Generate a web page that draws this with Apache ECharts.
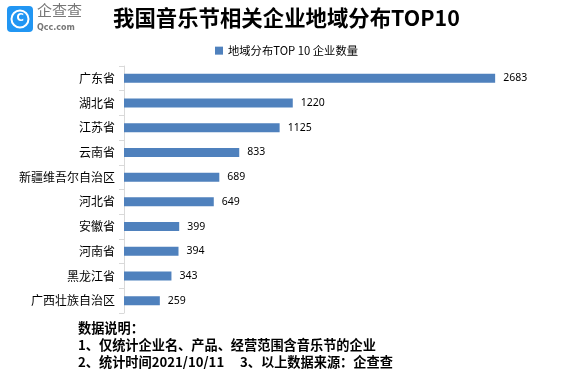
<!DOCTYPE html>
<html><head><meta charset="utf-8">
<style>html,body{margin:0;padding:0;background:#fff}#c{width:572px;height:381px}</style>
<script src="https://cdn.jsdelivr.net/npm/echarts@6/dist/echarts.min.js"></script>
</head><body><div id="c"></div>
<script>
var categories=["广东省","湖北省","江苏省","云南省","新疆维吾尔自治区","河北省","安徽省","河南省","黑龙江省","广西壮族自治区"];
var values=[2683,1220,1125,833,689,649,399,394,343,259];
var seriesName="地域分布TOP 10 企业数量";
var titleText="我国音乐节相关企业地域分布TOP10";
var notes=["数据说明：","1、仅统计企业名、产品、经营范围含音乐节的企业","2、统计时间2021/10/11","3、以上数据来源：企查查"];
var F='"Noto Sans CJK SC"';
var chart=echarts.init(document.getElementById('c'),null,{renderer:'canvas'});
chart.setOption({
 animation:false,
 backgroundColor:'#fff',
 legend:{top:40,left:210,itemWidth:8,itemHeight:8,itemGap:5,icon:'rect',
  textStyle:{fontFamily:F,fontSize:11.3,color:'#000'},data:[seriesName]},
 grid:{left:124,top:66,width:415,height:247,containLabel:false},
 xAxis:{type:'value',min:0,max:3000,show:false},
 yAxis:{type:'category',inverse:true,data:categories,
  axisLine:{show:true,lineStyle:{color:'#d9d9d9',width:1}},
  axisTick:{show:true,length:5,lineStyle:{color:'#d9d9d9'}},
  axisLabel:{fontFamily:F,fontSize:12,color:'#000',margin:9}},
 series:[{name:seriesName,type:'bar',data:values,barWidth:9,
  itemStyle:{color:'#4f81bd'},
  label:{show:true,position:'right',distance:8,fontFamily:'"Noto Sans"',fontSize:10.5,color:'#000'}}],
 graphic:[
  {type:'text',left:113,top:7,style:{text:titleText,font:'bold 21.4px '+F,fill:'#000'}},
  {type:'rect',shape:{x:7,y:6,width:26,height:26,r:4},style:{fill:'#2196f3'}},
  {type:'circle',shape:{cx:20,cy:19,r:8.5},style:{fill:'none',stroke:'#fff',lineWidth:2}},
  {type:'text',left:16.5,top:13,style:{text:'C',font:'bold 10px "DejaVu Sans"',fill:'#fff'}},
  {type:'text',left:37,top:3,style:{text:'企查查',font:'15px '+F,fill:'#777'}},
  {type:'text',left:37,top:24,style:{text:'Qcc.com',font:'bold 8px "DejaVu Sans"',fill:'#777'}},
  {type:'text',left:78,top:321,style:{text:notes[0],font:'bold 13.2px '+F,fill:'#000'}},
  {type:'text',left:78,top:338,style:{text:notes[1],font:'bold 13.2px '+F,fill:'#000'}},
  {type:'text',left:78,top:355,style:{text:notes[2],font:'bold 13.2px '+F,fill:'#000'}},
  {type:'text',left:240,top:355,style:{text:notes[3],font:'bold 13.2px '+F,fill:'#000'}}
 ]
});
</script></body></html>
